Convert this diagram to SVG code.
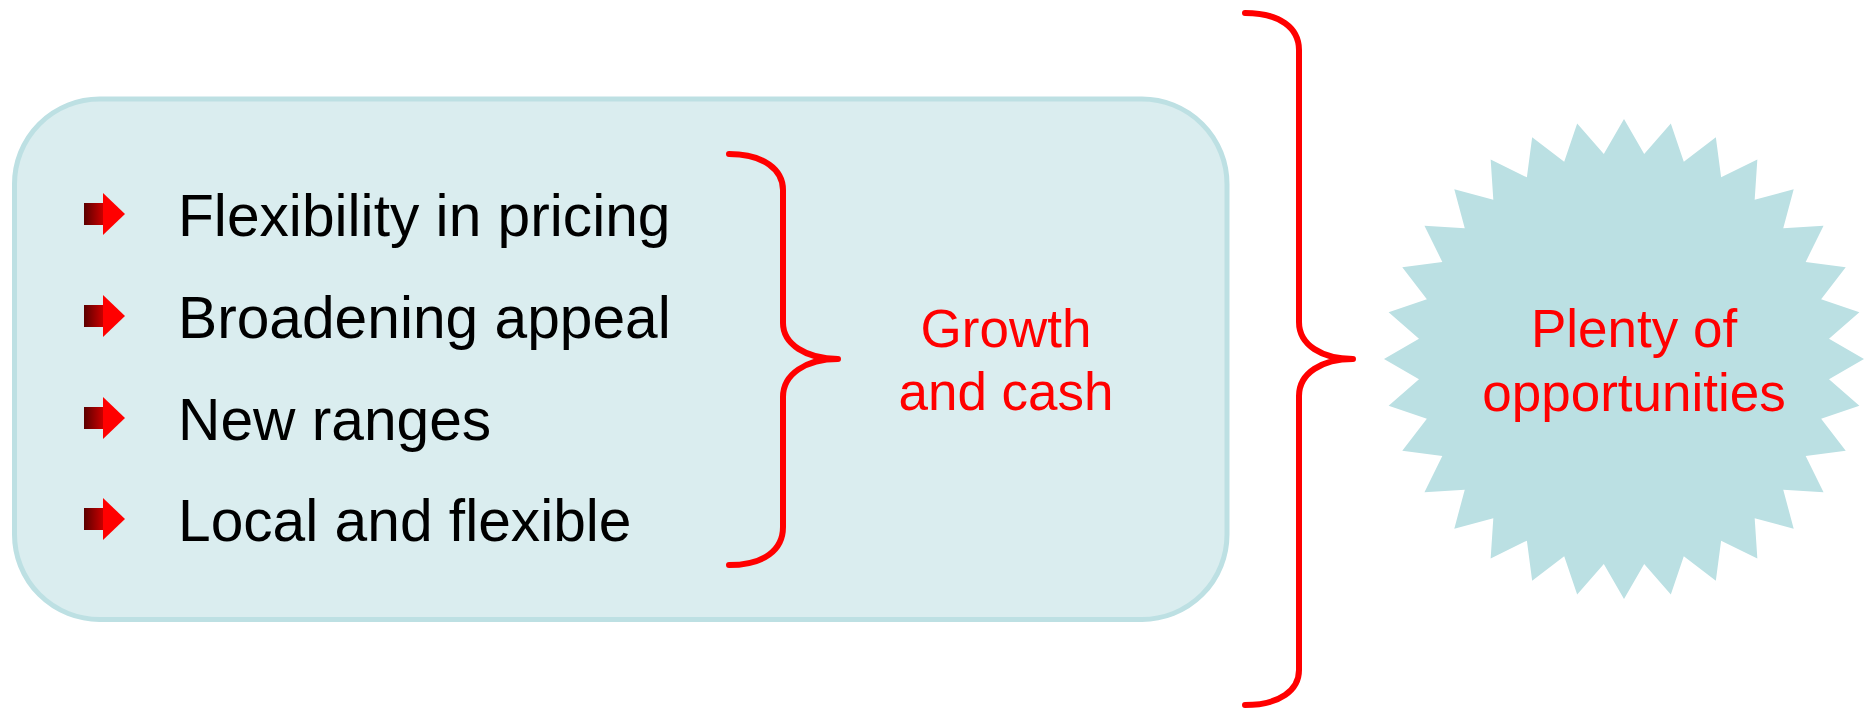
<svg xmlns="http://www.w3.org/2000/svg" width="1874" height="708" viewBox="0 0 1874 708">
  <defs>
    <style>
      .item { font-family: "Liberation Sans", Arial, sans-serif; font-size: 58.7px; fill: #000000; }
      .label { font-family: "Liberation Sans", Arial, sans-serif; font-size: 53px; fill: #ff0000; text-anchor: middle; }
      .brace { fill: none; stroke: #ff0000; stroke-width: 6; stroke-linecap: round; stroke-linejoin: round; }
    </style>
    <linearGradient id="shaft" x1="0" y1="0" x2="1" y2="0">
      <stop offset="0" stop-color="#5a0000"/>
      <stop offset="1" stop-color="#c80000"/>
    </linearGradient>
    <!-- block arrow bullet, origin at shaft's left-centre -->
    <g id="bullet">
      <rect x="0" y="-11" width="19" height="22" fill="url(#shaft)"/>
      <polygon points="19,-21 41,0 19,21" fill="#ff0000"/>
    </g>
  </defs>

  <rect width="1874" height="708" fill="#ffffff"/>

  <!-- panel holding the list -->
  <g id="panel">
    <rect x="14.5" y="99" width="1212.5" height="520.5" rx="85" ry="85" fill="#daedef" stroke="#bde0e3" stroke-width="5"/>
  </g>

  <g id="item-pricing">
    <use href="#bullet" x="84" y="214"/>
    <text class="item" x="178" y="236">Flexibility in pricing</text>
  </g>
  <g id="item-appeal">
    <use href="#bullet" x="84" y="316"/>
    <text class="item" x="178" y="338">Broadening appeal</text>
  </g>
  <g id="item-ranges">
    <use href="#bullet" x="84" y="418"/>
    <text class="item" x="178" y="440">New ranges</text>
  </g>
  <g id="item-local">
    <use href="#bullet" x="84" y="519"/>
    <text class="item" x="178" y="541">Local and flexible</text>
  </g>

  <g id="growth">
    <text class="label" x="1006" y="347">Growth</text>
    <text class="label" x="1006" y="410">and cash</text>
  </g>

  <!-- starburst: 32 points, outer radius 240, inner radius 206 -->
  <g id="opportunities">
    <polygon transform="translate(1624,359)" fill="#bbe0e3" points="240,0 205.01,20.19 235.39,46.82 197.13,59.80 221.73,91.84 181.68,97.11 199.55,133.34 159.24,130.68 169.71,169.71 130.68,159.24 133.34,199.55 97.11,181.68 91.84,221.73 59.80,197.13 46.82,235.39 20.19,205.01 0,240 -20.19,205.01 -46.82,235.39 -59.80,197.13 -91.84,221.73 -97.11,181.68 -133.34,199.55 -130.68,159.24 -169.71,169.71 -159.24,130.68 -199.55,133.34 -181.68,97.11 -221.73,91.84 -197.13,59.80 -235.39,46.82 -205.01,20.19 -240,0 -205.01,-20.19 -235.39,-46.82 -197.13,-59.80 -221.73,-91.84 -181.68,-97.11 -199.55,-133.34 -159.24,-130.68 -169.71,-169.71 -130.68,-159.24 -133.34,-199.55 -97.11,-181.68 -91.84,-221.73 -59.80,-197.13 -46.82,-235.39 -20.19,-205.01 0,-240 20.19,-205.01 46.82,-235.39 59.80,-197.13 91.84,-221.73 97.11,-181.68 133.34,-199.55 130.68,-159.24 169.71,-169.71 159.24,-130.68 199.55,-133.34 181.68,-97.11 221.73,-91.84 197.13,-59.80 235.39,-46.82 205.01,-20.19"/>
    <text class="label" x="1634" y="347">Plenty of</text>
    <text class="label" x="1634" y="411">opportunities</text>
  </g>

  <!-- braces -->
  <g id="connectors">
    <path class="brace" d="M729,154 C764,154 783,170 783,190 L783,323 C783,344 806,359 838,359 C806,359 783,374 783,397 L783,527 C783,550 764,565 729,565"/>
    <path class="brace" d="M1245,13 C1280,13 1299,28 1299,50 L1299,322 C1299,345 1322,359 1353,359 C1322,359 1299,373 1299,396 L1299,670 C1299,690 1280,705 1245,705"/>
  </g>
</svg>
